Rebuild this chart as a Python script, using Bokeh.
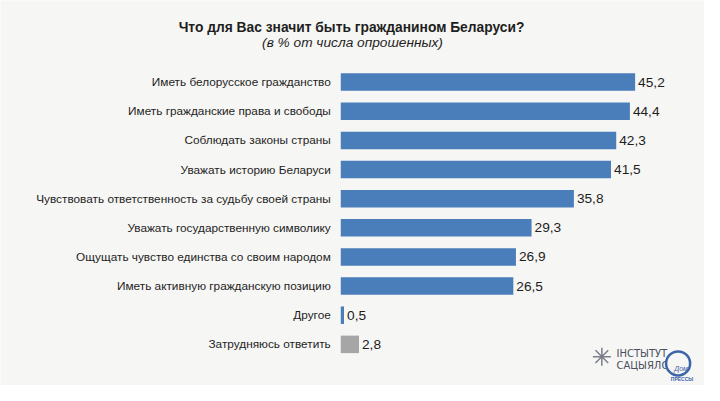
from bokeh.plotting import figure
from bokeh.models import Range1d, ColumnDataSource
from bokeh.embed import file_html
from bokeh.resources import INLINE
from bokeh.core.properties import value

title_text = "Что для Вас значит быть гражданином Беларуси?"
subtitle_text = "(в % от числа опрошенных)"

categories = [
    "Иметь белорусское гражданство",
    "Иметь гражданские права и свободы",
    "Соблюдать законы страны",
    "Уважать историю Беларуси",
    "Чувствовать ответственность за судьбу своей страны",
    "Уважать государственную символику",
    "Ощущать чувство единства со своим народом",
    "Иметь активную гражданскую позицию",
    "Другое",
    "Затрудняюсь ответить",
]
values = [45.2, 44.4, 42.3, 41.5, 35.8, 29.3, 26.9, 26.5, 0.5, 2.8]
value_labels = ["45,2", "44,4", "42,3", "41,5", "35,8", "29,3", "26,9", "26,5", "0,5", "2,8"]

BLUE = "#4a7ebb"
GRAY = "#a6a6a6"
bar_colors = [BLUE] * 9 + [GRAY]

W, H = 704, 385
SX = W / 720.0
SY = H / 401.0
PPU = 6.66 * SX          # pixels per percent
X0 = 348 * SX            # pixel position of zero
ROW = 30.35 * SY         # pixels per row
Y0 = 85 * SY             # pixel position of first row


def dx(ref_x):
    return (ref_x * SX - X0) / PPU


def dy(ref_y):
    return (ref_y * SY - Y0) / ROW


src = ColumnDataSource(dict(
    y=list(range(len(categories))),
    v=values,
    cat=categories,
    lab=value_labels,
    color=bar_colors,
    zero=[0] * len(values),
))

p = figure(width=W, height=H, output_backend="svg", toolbar_location=None,
           x_range=Range1d(-X0 / PPU, (W - X0) / PPU),
           y_range=Range1d((H - Y0) / ROW, -Y0 / ROW),
           min_border=0, min_border_left=0, min_border_right=0,
           min_border_top=0, min_border_bottom=0)
p.axis.visible = False
p.grid.visible = False
p.outline_line_color = None
p.background_fill_color = "#f6f6f4"
p.border_fill_color = "#f6f6f4"

p.hbar(y="y", left=0, right="v", height=0.6, fill_color="color", line_color=None, source=src)

FONT = value("Liberation Sans")
p.text(x="zero", y="y", text="cat", source=src, text_align="right", text_baseline="middle",
       x_offset=-10, text_font=FONT, text_font_size="11.8px", text_color="#1e1e1e")
p.text(x="v", y="y", text="lab", source=src, text_align="left", text_baseline="middle",
       x_offset=3, text_font=FONT, text_font_size="13.7px", text_color="#1e1e1e")

# titles
p.text(x=[dx(359)], y=[dy(28)], text=[title_text], text_align="center",
       text_baseline="middle", text_font=FONT, text_font_size="13.8px", text_font_style="bold",
       text_color="#1e1e1e")
p.text(x=[dx(360)], y=[dy(44)], text=[subtitle_text], text_align="center",
       text_baseline="middle", text_font=FONT, text_font_size="13.7px", text_font_style="italic",
       text_color="#1e1e1e")

# logo (decoration)
p.scatter(x=[dx(615)], y=[dy(371)], marker="asterisk", size=18,
          line_color="#7a7f8a", line_width=1.5)
p.text(x=[dx(630)] * 2, y=[dy(368), dy(380)],
       text=["ІНСТЫТУТ", "САЦЫЯЛОГІІ"], text_align="left", text_baseline="middle",
       text_font=value("DejaVu Sans"), text_font_size="10px", text_color="#4a4f60")
p.scatter(x=[dx(693)], y=[dy(378)], marker="circle", size=24,
          fill_color="#f6f6f4", line_color="#3d64a8", line_width=2.5)
p.text(x=[dx(696)], y=[dy(383)], text=["Дом"], text_align="center",
       text_baseline="middle", text_font=FONT, text_font_size="7px", text_font_style="italic",
       text_color="#3d64a8")
p.text(x=[dx(697)], y=[dy(394)], text=["ПРЕССЫ"], text_align="center",
       text_baseline="middle", text_font=FONT, text_font_size="5px", text_font_style="bold",
       text_color="#3d64a8")

open("out.html", "w").write(file_html(p, INLINE))
